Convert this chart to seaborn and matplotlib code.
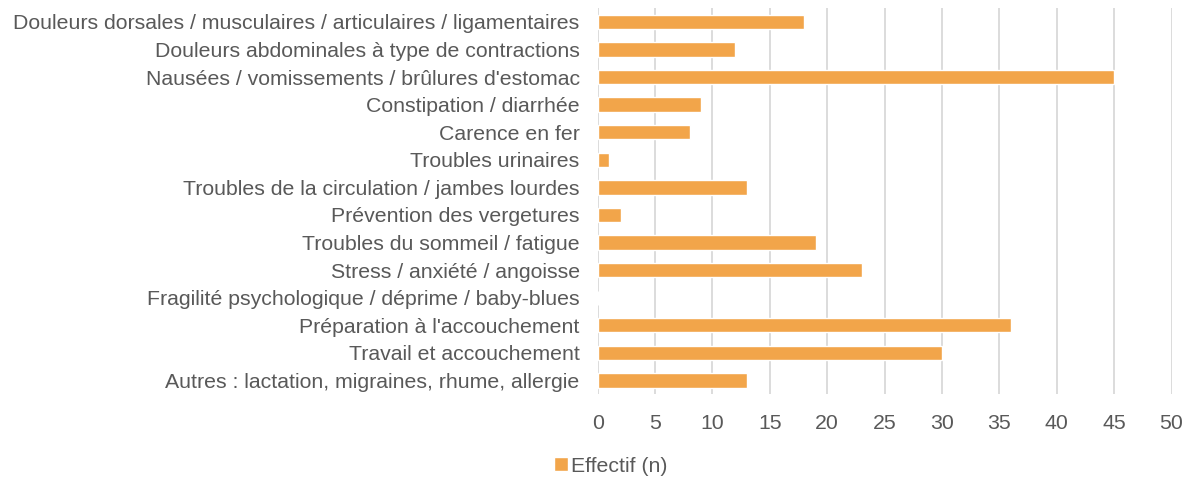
import pandas as pd
import seaborn as sns
from matplotlib import pyplot as plt

categories = [
    'Douleurs dorsales / musculaires / articulaires / ligamentaires',
    'Douleurs abdominales à type de contractions',
    "Nausées / vomissements / brûlures d'estomac",
    'Constipation / diarrhée',
    'Carence en fer',
    'Troubles urinaires',
    'Troubles de la circulation / jambes lourdes',
    'Prévention des vergetures',
    'Troubles du sommeil / fatigue',
    'Stress / anxiété / angoisse',
    'Fragilité psychologique / déprime / baby-blues',
    "Préparation à l'accouchement",
    'Travail et accouchement',
    'Autres : lactation, migraines, rhume, allergie',
]
effectif = [18, 12, 45, 9, 8, 1, 13, 2, 19, 23, 0, 36, 30, 13]
xticks = [0, 5, 10, 15, 20, 25, 30, 35, 40, 45, 50]

df = pd.DataFrame({'cat': categories, 'n': effectif})

sns.set_style('white')
plt.rcParams['font.family'] = ['Liberation Sans', 'DejaVu Sans']

fig = plt.figure(figsize=(11.93, 4.79), dpi=100)
ax = fig.add_axes([0.501, 0.177, 0.481, 0.806])

sns.barplot(data=df, x='n', y='cat', orient='h', color='#F2A54A',
            width=0.52, saturation=1, label='Effectif (n)', ax=ax)

ax.set_xlim(0, 50)
ax.set_xticks(xticks)
ax.set_ylim(13.5, -0.5)
ax.set_xlabel('')
ax.set_ylabel('')
ax.xaxis.grid(True, color='#D9D9D9', linewidth=1.3)
ax.set_axisbelow(True)
for s in ax.spines.values():
    s.set_visible(False)
ax.tick_params(axis='y', length=0, pad=13, labelsize=15.3, labelcolor='#595959')
ax.tick_params(axis='x', length=0, pad=14, labelsize=15.3, labelcolor='#595959')

handles, labels = ax.get_legend_handles_labels()
if ax.get_legend() is not None:
    ax.get_legend().remove()
fig.legend(handles, labels, loc='center', bbox_to_anchor=(0.512, 0.027),
           frameon=False, fontsize=15.3, labelcolor='#595959',
           handlelength=0.65, handleheight=0.65, handletextpad=0.15)

plt.savefig('out.png')
